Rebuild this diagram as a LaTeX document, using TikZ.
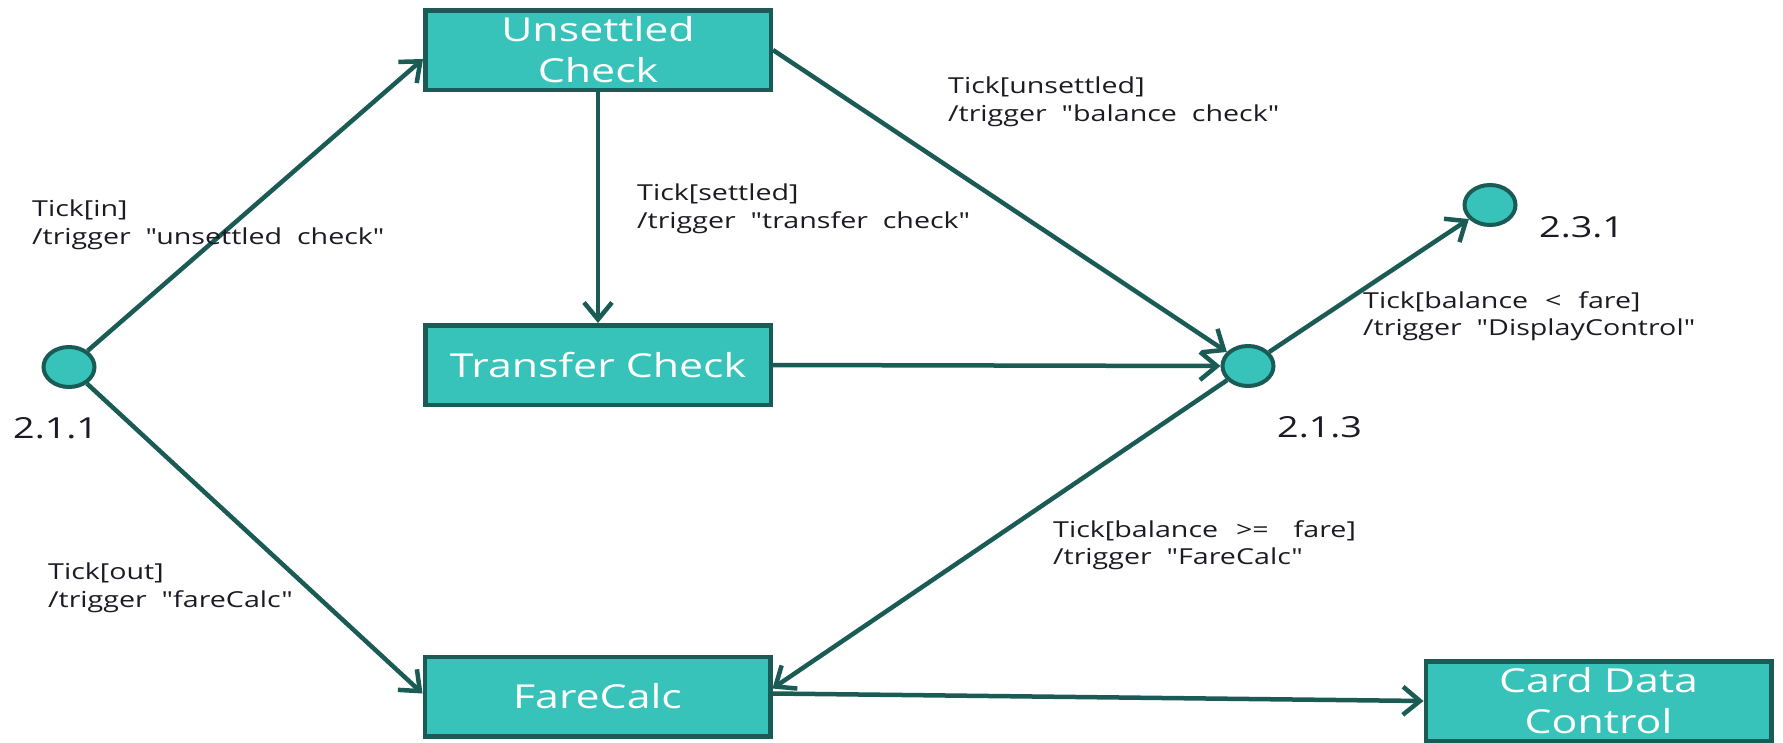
\documentclass[tikz,border=0pt]{standalone}
\usepackage{fontspec}
\setmainfont{Open Sans}
\newfontfamily\boxfont[FakeStretch=1.299]{Open Sans}
\newfontfamily\numfont[FakeStretch=1.3]{Open Sans}
\newfontfamily\tagfont[FakeStretch=1.301,WordSpace=2]{Open Sans}
\usetikzlibrary{arrows.meta,shapes.geometric}
\definecolor{tealfill}{HTML}{37C3BA}
\definecolor{tealdark}{HTML}{1B5B56}
\definecolor{txtcol}{HTML}{1E1A24}
\begin{document}
\begin{tikzpicture}[x=1pt,y=-1pt,
  box/.style={draw=tealdark, fill=tealfill, line width=4.5pt, minimum width=345.5pt, minimum height=79.5pt, inner sep=0pt, align=center, text=white, font=\boxfont\fontsize{33}{41}\selectfont},
  pseudo/.style={ellipse, draw=tealdark, fill=tealfill, line width=4pt, minimum width=51pt, minimum height=40pt, inner sep=0pt},
  lbl/.style={anchor=west, align=left, inner sep=0pt, text=txtcol, font=\tagfont\fontsize{22}{27.5}\selectfont},
  num/.style={anchor=base west, inner sep=0pt, text=txtcol, font=\numfont\fontsize{29}{34}\selectfont},
  arr/.style={draw=tealdark, line width=4.5pt, line join=round, -{Straight Barb[length=17pt,width=28pt]}}
]
\fill[white] (0,0) rectangle (1783,742);
\useasboundingbox (0,0) rectangle (1783,742);

% states
\node[box] (uc) at (598,50) {Unsettled\\Check};
\node[box] (tc) at (598,365) {Transfer Check};
\node[box] (fc) at (597.5,696.5) {FareCalc};
\node[box] (cd) at (1598.5,701) {Card Data\\Control};

\node[pseudo] (s211) at (69,367) {};
\node[pseudo] (s213) at (1248,366) {};
\node[pseudo] (s231) at (1490,205) {};

% transitions
\draw[arr] (s211) -- ([yshift=-9pt]uc.west);
\draw[arr] (s211) -- ([yshift=3pt]fc.west);
\draw[arr] (uc.south) -- (tc.north);
\draw[arr] (uc.east) -- (s213);
\draw[arr] (tc.east) -- (s213.west);
\draw[arr] (s213) -- (s231);
\draw[arr] (s213) -- ([yshift=8pt]fc.east);
\draw[arr] ([yshift=3pt]fc.east) -- (cd.west);

% labels
\node[lbl] (l1) at (32,225) {Tick[in]\\/trigger "unsettled check"};
\node[lbl] (l2) at (637,209) {Tick[settled]\\/trigger "transfer check"};
\node[lbl] (l3) at (948,102) {Tick[unsettled]\\/trigger "balance check"};
\node[lbl] (l4) at (1363,316) {Tick[balance\hspace{2pt} <\hspace{2pt} fare]\\/trigger "DisplayControl"};
\node[lbl] (l5) at (48,588) {Tick[out]\\/trigger "fareCalc"};
\node[lbl] (l6) at (1053,545) {Tick[balance\hspace{3pt} >=\hspace{10pt} fare]\\/trigger "FareCalc"};

\node[num] (n211) at (13,438) {2.1.1};
\node[num] (n213) at (1277,437) {2.1.3};
\node[num] (n231) at (1539,237) {2.3.1};
\end{tikzpicture}
\end{document}
